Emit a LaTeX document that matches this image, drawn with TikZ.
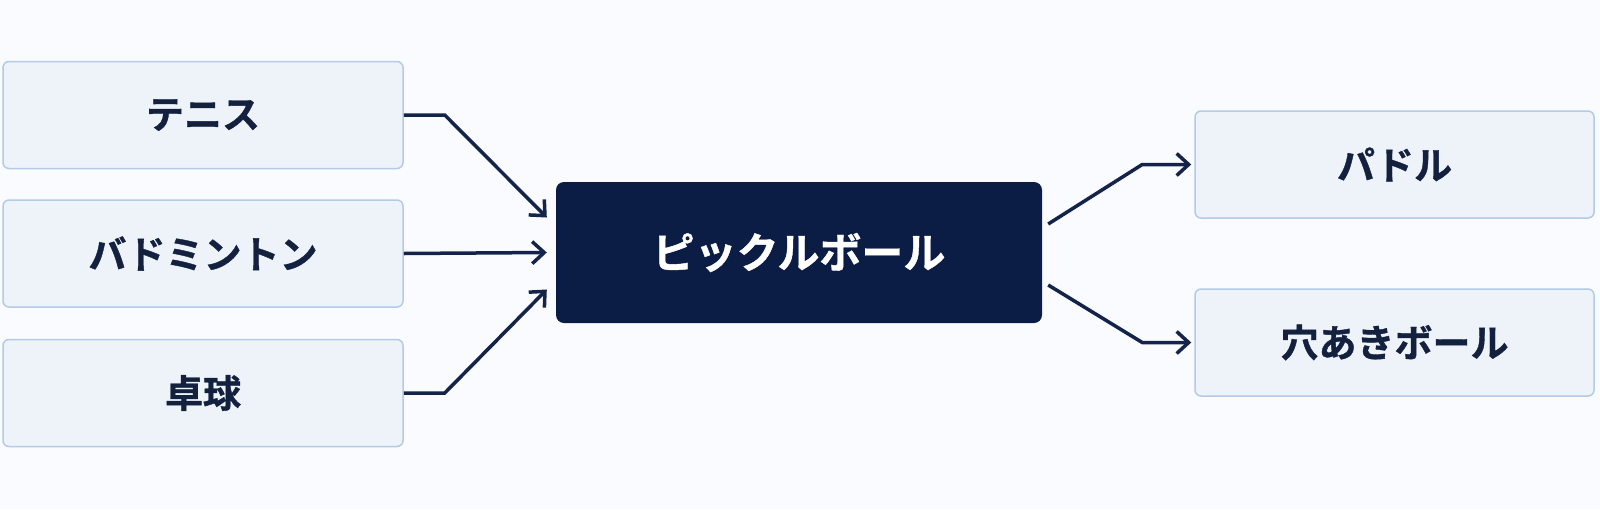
\documentclass[tikz,border=0pt]{standalone}
\usepackage{fontspec}
\newfontfamily\jpbold{Noto Sans CJK JP Bold}[FakeBold=1]
\usetikzlibrary{arrows.meta}
\definecolor{bgc}{HTML}{FAFBFE}
\definecolor{boxfill}{HTML}{EEF3FA}
\definecolor{boxline}{HTML}{B3CBE7}
\definecolor{navy}{HTML}{0B1D45}
\definecolor{ink}{HTML}{13213F}
\definecolor{arrowc}{HTML}{13234A}
\tikzset{
  srcbox/.style={draw=boxline, line width=1.5pt, fill=boxfill, rounded corners=6pt,
    minimum width=400pt, minimum height=107pt, inner sep=0pt,
    font=\fontsize{38}{44}\selectfont, text=ink},
  dstbox/.style={srcbox, minimum width=399pt},
  hubbox/.style={fill=navy, rounded corners=8pt, minimum width=486pt, minimum height=141pt,
    inner sep=0pt, font=\fontsize{42}{48}\selectfont, text=white},
  arr/.style={draw=arrowc, line width=3.5pt, line join=miter,
    -{Straight Barb[length=12pt,width=22pt,line width=3.5pt]}}
}
\begin{document}
\begin{tikzpicture}[x=1pt,y=-1pt]
\fill[bgc] (0,0) rectangle (1600,509);
\useasboundingbox (0,0) rectangle (1600,509);
\node[srcbox] (tennis) at (203,115) {\jpbold テニス};
\node[srcbox] (badm) at (203,253.5) {\jpbold バドミントン};
\node[srcbox] (tt) at (203,393) {\jpbold 卓球};
\node[hubbox] (pb) at (799,252.5) {\jpbold ピックルボール};
\node[dstbox] (paddle) at (1394.5,164.5) {\jpbold パドル};
\node[dstbox] (ball) at (1394.5,342.5) {\jpbold 穴あきボール};
\coordinate (tin) at ([xshift=-9pt,yshift=35pt]pb.west);
\coordinate (bin) at ([xshift=-9pt]pb.west);
\coordinate (ttin) at ([xshift=-9pt,yshift=-37pt]pb.west);
\coordinate (pout) at ([xshift=6pt,yshift=28.5pt]pb.east);
\coordinate (bout) at ([xshift=6pt,yshift=-32.5pt]pb.east);
\draw[arr] (tennis.east) -- ++(41,0) -- (tin);
\draw[arr] (badm.east) -- (bin);
\draw[arr] (tt.east) -- ++(41,0) -- (ttin);
\draw[arr] (pout) -- ([xshift=-52pt]paddle.west) -- ([xshift=-3pt]paddle.west);
\draw[arr] (bout) -- ([xshift=-52pt]ball.west) -- ([xshift=-3pt]ball.west);
\end{tikzpicture}
\end{document}
